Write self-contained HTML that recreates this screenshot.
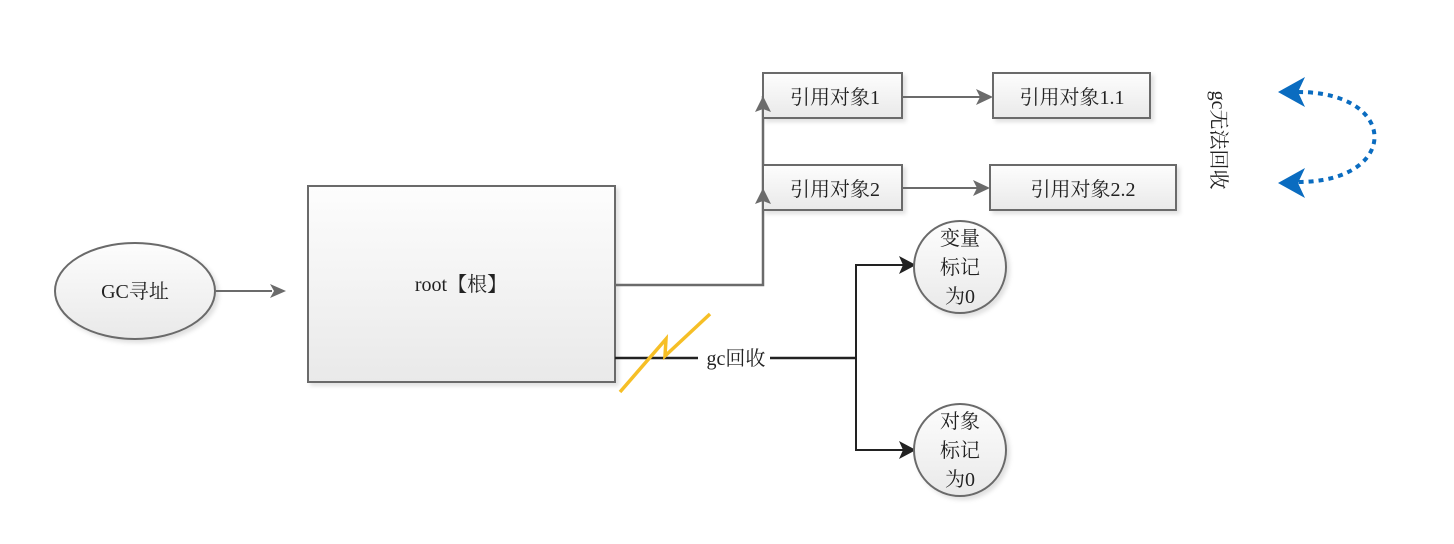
<!DOCTYPE html>
<html><head><meta charset="utf-8"><style>
html,body{margin:0;padding:0;background:#fff;width:1454px;height:544px;overflow:hidden}
text{font-family:"Liberation Serif","Noto Serif CJK SC","Noto Sans CJK SC",serif;fill:#222}
</style></head><body>
<svg width="1454" height="544" viewBox="0 0 1454 544" xmlns="http://www.w3.org/2000/svg">
<defs>
<linearGradient id="g" x1="0" y1="0" x2="0" y2="1"><stop offset="0" stop-color="#fdfdfd"/><stop offset="1" stop-color="#e9e9e9"/></linearGradient>
<filter id="s" x="-10%" y="-10%" width="130%" height="130%"><feDropShadow dx="3" dy="3" stdDeviation="2" flood-color="#000" flood-opacity="0.12"/></filter>
</defs>
<!-- GC ellipse -->
<ellipse cx="135" cy="291" rx="80" ry="48" fill="url(#g)" stroke="#6b6b6b" stroke-width="2" filter="url(#s)"/>
<text x="135" y="298" font-size="20" text-anchor="middle">GC寻址</text>
<line x1="216" y1="291" x2="272" y2="291" stroke="#6b6b6b" stroke-width="2"/>
<polygon points="286,291 270,284 274,291 270,298" fill="#6b6b6b"/>
<!-- root -->
<rect x="308" y="186" width="307" height="196" fill="url(#g)" stroke="#6b6b6b" stroke-width="2" filter="url(#s)"/>
<text x="461" y="291" font-size="20" text-anchor="middle">root【根】</text>
<!-- root connector -->
<polyline points="615,285 763,285 763,96" fill="none" stroke="#6b6b6b" stroke-width="2.5"/>
<!-- boxes -->
<rect x="763" y="73" width="139" height="45" fill="url(#g)" stroke="#6b6b6b" stroke-width="2" filter="url(#s)"/>
<text x="835" y="104" font-size="20" text-anchor="middle">引用对象1</text>
<rect x="763" y="165" width="139" height="45" fill="url(#g)" stroke="#6b6b6b" stroke-width="2" filter="url(#s)"/>
<text x="835" y="196" font-size="20" text-anchor="middle">引用对象2</text>
<polygon points="763,96 755,112 763,109 771,112" fill="#6b6b6b"/>
<polygon points="763,188 755,204 763,201 771,204" fill="#6b6b6b"/>
<rect x="993" y="73" width="157" height="45" fill="url(#g)" stroke="#6b6b6b" stroke-width="2" filter="url(#s)"/>
<text x="1072" y="104" font-size="20" text-anchor="middle">引用对象1.1</text>
<rect x="990" y="165" width="186" height="45" fill="url(#g)" stroke="#6b6b6b" stroke-width="2" filter="url(#s)"/>
<text x="1083" y="196" font-size="20" text-anchor="middle">引用对象2.2</text>
<line x1="902" y1="97" x2="980" y2="97" stroke="#6b6b6b" stroke-width="2"/>
<polygon points="993,97 976,89 980,97 976,105" fill="#6b6b6b"/>
<line x1="902" y1="188" x2="977" y2="188" stroke="#6b6b6b" stroke-width="2"/>
<polygon points="990,188 973,180 977,188 973,196" fill="#6b6b6b"/>
<!-- gc text vertical -->
<text transform="translate(1212,140) rotate(90)" font-size="20" text-anchor="middle">gc无法回收</text>
<!-- blue dotted arc -->
<path d="M1298,92 C1400,92 1400,182 1298,182" fill="none" stroke="#0a6cc0" stroke-width="4" stroke-dasharray="5,5"/>
<polygon points="1278,92 1305,77 1298,92 1305,107" fill="#0a6cc0"/>
<polygon points="1278,183 1305,168 1298,183 1305,198" fill="#0a6cc0"/>
<!-- gc line -->
<line x1="615" y1="358" x2="698" y2="358" stroke="#222" stroke-width="2.5"/>
<line x1="770" y1="358" x2="856" y2="358" stroke="#222" stroke-width="2.5"/>
<text x="736" y="365" font-size="20" text-anchor="middle">gc回收</text>
<polyline points="915,265 856,265 856,450 915,450" fill="none" stroke="#222" stroke-width="2"/>
<polygon points="916,265 899,256 903,265 899,274" fill="#222"/>
<polygon points="916,450 899,441 903,450 899,459" fill="#222"/>
<!-- lightning -->
<polyline points="620,392 666,339 665,356 710,314" fill="none" stroke="#f6bf26" stroke-width="3.5" stroke-linejoin="miter"/>
<!-- circles -->
<circle cx="960" cy="267" r="46" fill="url(#g)" stroke="#6b6b6b" stroke-width="2" filter="url(#s)"/>
<text x="960" y="245" font-size="20" text-anchor="middle">变量</text>
<text x="960" y="274" font-size="20" text-anchor="middle">标记</text>
<text x="960" y="303" font-size="20" text-anchor="middle">为0</text>
<circle cx="960" cy="450" r="46" fill="url(#g)" stroke="#6b6b6b" stroke-width="2" filter="url(#s)"/>
<text x="960" y="428" font-size="20" text-anchor="middle">对象</text>
<text x="960" y="457" font-size="20" text-anchor="middle">标记</text>
<text x="960" y="486" font-size="20" text-anchor="middle">为0</text>
</svg>
</body></html>
